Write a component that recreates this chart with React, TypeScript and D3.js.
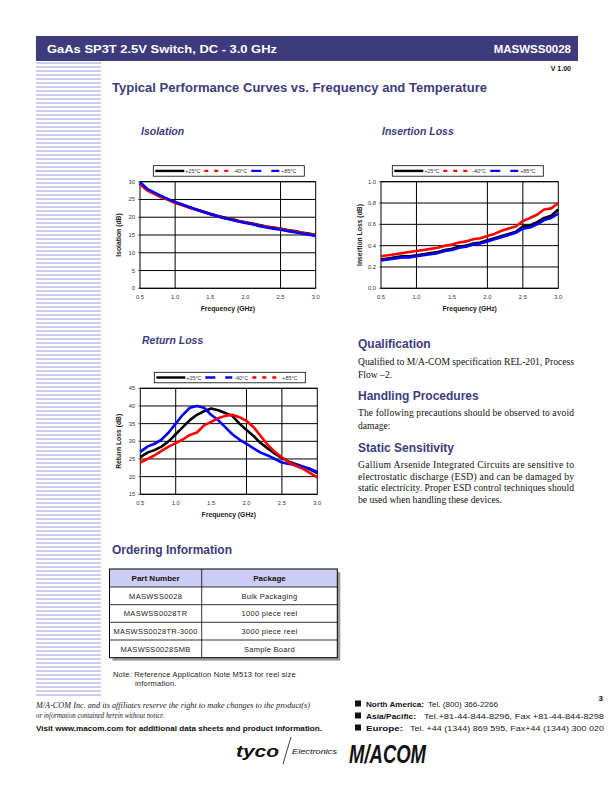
import * as d3 from "d3";

// frequency grid in GHz
const freqs = [0.5, 0.6, 0.7, 0.8, 0.9, 1.0, 1.1, 1.2, 1.3, 1.4, 1.5, 1.6, 1.7, 1.8, 1.9, 2.0, 2.1, 2.2, 2.3, 2.4, 2.5, 2.6, 2.7, 2.8, 2.9, 3.0];
const xTicks = [0.5, 1.0, 1.5, 2.0, 2.5, 3.0];

// Isolation (dB)
const isoP25 = [29.5, 27.8, 26.8, 25.8, 25.0, 24.2, 23.5, 22.8, 22.2, 21.6, 21.0, 20.4, 19.9, 19.5, 19.0, 18.6, 18.2, 17.8, 17.4, 17.1, 16.8, 16.4, 16.1, 15.7, 15.4, 15.0];
const isoM40 = [29.3, 27.6, 26.6, 25.6, 24.9, 24.0, 23.4, 22.7, 22.1, 21.5, 20.8, 20.3, 19.8, 19.4, 18.9, 18.5, 18.1, 17.7, 17.3, 17.0, 16.7, 16.3, 16.0, 15.6, 15.3, 14.9];
const isoP85 = [29.9, 28.0, 27.0, 26.0, 25.1, 24.3, 23.6, 22.9, 22.2, 21.5, 20.9, 20.3, 19.7, 19.3, 18.8, 18.4, 18.0, 17.5, 17.1, 16.8, 16.5, 16.1, 15.8, 15.4, 15.1, 14.7];

// Insertion loss (dB)
const ilP25 = [0.27, 0.28, 0.29, 0.30, 0.30, 0.31, 0.32, 0.33, 0.34, 0.36, 0.37, 0.39, 0.40, 0.42, 0.43, 0.45, 0.47, 0.49, 0.51, 0.53, 0.58, 0.59, 0.62, 0.66, 0.68, 0.74];
const ilM40 = [0.30, 0.31, 0.32, 0.33, 0.34, 0.35, 0.36, 0.37, 0.38, 0.40, 0.41, 0.43, 0.44, 0.46, 0.47, 0.49, 0.51, 0.54, 0.56, 0.58, 0.63, 0.66, 0.69, 0.74, 0.75, 0.80];
const ilP85 = [0.26, 0.27, 0.28, 0.29, 0.29, 0.30, 0.31, 0.32, 0.33, 0.35, 0.36, 0.38, 0.39, 0.41, 0.42, 0.44, 0.46, 0.48, 0.50, 0.52, 0.56, 0.57, 0.60, 0.64, 0.66, 0.70];

// Return loss (dB)
const rlP25 = [25.5, 26.8, 27.5, 28.5, 30.0, 32.0, 34.0, 36.0, 37.5, 38.5, 39.3, 38.8, 38.0, 37.2, 35.0, 33.2, 31.5, 29.5, 28.0, 26.5, 25.3, 24.2, 23.5, 22.8, 22.0, 21.0];
const rlM40 = [27.0, 28.5, 29.3, 30.5, 32.5, 35.0, 37.5, 39.5, 40.0, 39.5, 37.5, 36.0, 34.0, 32.0, 30.5, 29.3, 28.0, 26.8, 26.0, 25.0, 24.0, 23.6, 23.4, 22.8, 22.2, 21.3];
const rlP85 = [24.0, 25.0, 26.0, 27.3, 28.5, 29.5, 30.5, 31.8, 32.5, 34.5, 35.5, 36.5, 37.2, 37.5, 36.8, 35.8, 34.0, 31.5, 29.0, 27.0, 25.5, 24.0, 23.0, 22.2, 21.0, 19.8];

const partNumbers = ["MASWSS0028", "MASWSS0028TR", "MASWSS0028TR-3000", "MASWSS0028SMB"];
const packages = ["Bulk Packaging", "1000 piece reel", "3000 piece reel", "Sample Board"];

const NAVY = "#3d3b7c";
const STRIPE = "#ccccf5";
const SANS = "'Liberation Sans', Arial, sans-serif";
const SERIF = "'Liberation Serif', 'Times New Roman', serif";

type Series = { values: number[]; color: string };
type LegendItem = { label: string; color: string; dash: string };

function Chart(props: {
  left: number; top: number; width: number; height: number;
  yDomain: [number, number]; yTicks: number[]; yFmt: (v: number) => string;
  vGrid: number[]; yLabel: string; series: Series[]; legend: LegendItem[];
  legendX: number;
}) {
  const { left, top, width, height, yDomain, yTicks, yFmt, vGrid, yLabel, series, legend, legendX } = props;
  const x = d3.scaleLinear().domain([0.5, 3.0]).range([left, left + width]);
  const y = d3.scaleLinear().domain(yDomain).range([top + height, top]);
  const line = d3.line<number>().x((_, i) => x(freqs[i])).y((d) => y(d));
  const lgY = top - 16;
  const lgW = 151;
  const segs = [
    [2, 31],
    [51, 78],
    [98, 126],
  ];
  const labs = [32, 80, 128];
  return (
    <g>
      {yTicks.map((t) => (
        <g key={"h" + t}>
          <line x1={left} x2={left + width} y1={y(t)} y2={y(t)} stroke="#000" strokeWidth={1} />
          <line x1={left - 2} x2={left} y1={y(t)} y2={y(t)} stroke="#000" strokeWidth={0.6} />
          <text x={left - 5} y={y(t) + 2} fontSize={5.8} textAnchor="end" fill="#333" fontFamily={SANS}>{yFmt(t)}</text>
        </g>
      ))}
      {vGrid.map((t) => (
        <line key={"v" + t} x1={x(t)} x2={x(t)} y1={top} y2={top + height} stroke="#000" strokeWidth={1} />
      ))}
      {xTicks.map((t) => (
        <text key={"x" + t} x={x(t)} y={top + height + 11} fontSize={5.8} textAnchor="middle" fill="#333" fontFamily={SANS}>{t.toFixed(1)}</text>
      ))}
      <rect x={left} y={top} width={width} height={height} fill="none" stroke="#000" strokeWidth={1} />
      {series.map((s, i) => (
        <path key={i} d={line(s.values) || ""} fill="none" stroke={s.color} strokeWidth={2.6} strokeLinejoin="round" />
      ))}
      <text x={left + width / 2} y={top + height + 23} fontSize={6.8} fontWeight="bold" textAnchor="middle" fill="#222" fontFamily={SANS}>Frequency (GHz)</text>
      <text transform={`translate(${left - 19},${top + height / 2}) rotate(-90)`} fontSize={6.8} fontWeight="bold" textAnchor="middle" fill="#222" fontFamily={SANS}>{yLabel}</text>
      <rect x={legendX} y={lgY} width={lgW} height={10.5} fill="#fff" stroke="#000" strokeWidth={0.8} />
      {legend.map((it, i) => (
        <g key={it.label}>
          <line x1={legendX + segs[i][0]} x2={legendX + segs[i][1]} y1={lgY + 5.2} y2={lgY + 5.2} stroke={it.color} strokeWidth={2.4} strokeDasharray={it.dash} />
          <text x={legendX + labs[i]} y={lgY + 7.2} fontSize={5.4} fill="#333" fontFamily={SANS}>{it.label}</text>
        </g>
      ))}
    </g>
  );
}

function JustText(props: { x: number; y: number; lines: string[]; width: number; lh: number }) {
  const { x, y, lines, width, lh } = props;
  return (
    <g>
      {lines.map((l, i) => (
        <text key={i} x={x} y={y + i * lh} fontSize={9.6} fill="#111" fontFamily={SERIF}
          {...(i < lines.length - 1 ? { textLength: width, lengthAdjust: "spacing" } : {})}>{l}</text>
      ))}
    </g>
  );
}

export default function App() {
  const stripes = d3.range(62, 698, 4);
  const legA: LegendItem[] = [
    { label: "+25°C", color: "#000", dash: "none" },
    { label: "-40°C", color: "#ff0000", dash: "4 6" },
    { label: "+85°C", color: "#0000ff", dash: "10 10" },
  ];
  const legB: LegendItem[] = [
    { label: "+25°C", color: "#000", dash: "none" },
    { label: "-40°C", color: "#0000ff", dash: "10 10" },
    { label: "+85°C", color: "#ff0000", dash: "4 6" },
  ];
  const rowY = [569, 587, 604.7, 622.3, 640, 657.7];
  const tL = 109.5, tM = 201.7, tR = 337.3;
  const contacts: [string, string, number, number, number, number][] = [
    ["North America:", "Tel. (800) 366-2266", 706.5, 58, 428, 70],
    ["Asia/Pacific:", "Tel.+81-44-844-8296,  Fax +81-44-844-8298", 718.5, 50, 424, 180],
    ["Europe:", "Tel. +44 (1344) 869 595,  Fax+44 (1344) 300 020", 730.5, 37, 410, 194],
  ];
  return (
    <svg width={612} height={792} style={{ position: "absolute", left: 0, top: 0 }} fontFamily={SANS}>
      <rect width={612} height={792} fill="#fff" />
      {stripes.map((s) => (
        <rect key={s} x={36} y={s} width={65} height={2} fill={STRIPE} />
      ))}
      <rect x={36} y={36} width={542} height={25} fill={NAVY} />
      <text x={47} y={52.5} fontSize={11.5} fontWeight="bold" fill="#fff" textLength={230} lengthAdjust="spacingAndGlyphs">GaAs SP3T 2.5V Switch, DC - 3.0 GHz</text>
      <text x={571} y={52.5} fontSize={11.5} fontWeight="bold" fill="#fff" textAnchor="end">MASWSS0028</text>
      <text x={571} y={71} fontSize={7} fontWeight="bold" fill="#111" textAnchor="end">V 1.00</text>
      <text x={112} y={91.5} fontSize={12} fontWeight="bold" fill={NAVY} textLength={375} lengthAdjust="spacingAndGlyphs">Typical Performance Curves vs. Frequency and Temperature</text>

      <text x={141} y={135} fontSize={10.5} fontWeight="bold" fontStyle="italic" fill={NAVY}>Isolation</text>
      <text x={382} y={135} fontSize={10.5} fontWeight="bold" fontStyle="italic" fill={NAVY}>Insertion Loss</text>
      <text x={142} y={344} fontSize={10.5} fontWeight="bold" fontStyle="italic" fill={NAVY}>Return Loss</text>

      <Chart left={140} top={181.7} width={175.7} height={106.6} yDomain={[0, 30]} yTicks={[0, 5, 10, 15, 20, 25, 30]}
        yFmt={(v) => String(v)} vGrid={[1.0, 2.5]} yLabel="Isolation (dB)" legend={legA} legendX={153.3}
        series={[{ values: isoP25, color: "#000" }, { values: isoM40, color: "#ff0000" }, { values: isoP85, color: "#0000ff" }]} />
      <Chart left={381} top={181.7} width={177.3} height={106.6} yDomain={[0, 1]} yTicks={[0, 0.2, 0.4, 0.6, 0.8, 1.0]}
        yFmt={(v) => v.toFixed(1)} vGrid={[1.0, 2.0, 2.5]} yLabel="Insertion Loss (dB)" legend={legA} legendX={392.3}
        series={[{ values: ilM40, color: "#ff0000" }, { values: ilP25, color: "#000" }, { values: ilP85, color: "#0000ff" }]} />
      <Chart left={140.3} top={388.3} width={177} height={106} yDomain={[15, 45]} yTicks={[15, 20, 25, 30, 35, 40, 45]}
        yFmt={(v) => String(v)} vGrid={[1.0, 2.0, 2.5]} yLabel="Return Loss (dB)" legend={legB} legendX={154.3}
        series={[{ values: rlP25, color: "#000" }, { values: rlM40, color: "#0000ff" }, { values: rlP85, color: "#ff0000" }]} />

      <text x={358} y={347.5} fontSize={12} fontWeight="bold" fill={NAVY}>Qualification</text>
      <JustText x={358} y={365} width={216} lh={12.5} lines={["Qualified to M/A-COM specification REL-201, Process", "Flow \u20132."]} />
      <text x={358} y={399.5} fontSize={12} fontWeight="bold" fill={NAVY}>Handling Procedures</text>
      <JustText x={358} y={416} width={216} lh={12.5} lines={["The following precautions should be observed to avoid", "damage:"]} />
      <text x={358} y={451.5} fontSize={12} fontWeight="bold" fill={NAVY}>Static Sensitivity</text>
      <JustText x={358} y={468} width={216} lh={11.7} lines={["Gallium Arsenide Integrated Circuits are sensitive to", "electrostatic discharge (ESD) and can be damaged by", "static electricity.  Proper ESD control techniques should", "be used when handling these devices."]} />

      <text x={112} y={553.5} fontSize={12} fontWeight="bold" fill={NAVY}>Ordering Information</text>
      <rect x={tL + 3} y={rowY[0] + 3} width={tR - tL} height={rowY[5] - rowY[0]} fill="#9a9a9a" />
      <rect x={tL} y={rowY[0]} width={tR - tL} height={rowY[5] - rowY[0]} fill="#fff" />
      <rect x={tL} y={rowY[0]} width={tR - tL} height={rowY[1] - rowY[0]} fill={STRIPE} />
      {rowY.slice(1, 5).map((r) => (
        <line key={r} x1={tL} x2={tR} y1={r} y2={r} stroke="#000" strokeWidth={0.8} />
      ))}
      <line x1={tM} x2={tM} y1={rowY[0]} y2={rowY[5]} stroke="#000" strokeWidth={0.8} />
      <rect x={tL} y={rowY[0]} width={tR - tL} height={rowY[5] - rowY[0]} fill="none" stroke="#000" strokeWidth={1} />
      <text x={(tL + tM) / 2} y={rowY[0] + 12} fontSize={8} fontWeight="bold" textAnchor="middle" fill="#111">Part Number</text>
      <text x={(tM + tR) / 2} y={rowY[0] + 12} fontSize={8} fontWeight="bold" textAnchor="middle" fill="#111">Package</text>
      {partNumbers.map((p, i) => (
        <g key={p}>
          <text x={(tL + tM) / 2} y={rowY[i + 1] + 11.5} fontSize={7.5} letterSpacing={0.3} textAnchor="middle" fill="#222">{p}</text>
          <text x={(tM + tR) / 2} y={rowY[i + 1] + 11.5} fontSize={7.5} letterSpacing={0.3} textAnchor="middle" fill="#222">{packages[i]}</text>
        </g>
      ))}
      <text x={113} y={676.5} fontSize={7.5} letterSpacing={0.2} fill="#222">Note:  Reference Application Note M513 for reel size</text>
      <text x={135} y={685.5} fontSize={7.5} letterSpacing={0.2} fill="#222">information.</text>

      <text x={36} y={708} fontSize={8.3} fontStyle="italic" fill="#222" fontFamily={SERIF} textLength={274} lengthAdjust="spacingAndGlyphs">M/A-COM Inc. and its affiliates reserve the right to make changes to the product(s)</text>
      <text x={36} y={718} fontSize={8.3} fontStyle="italic" fill="#222" fontFamily={SERIF} textLength={129} lengthAdjust="spacingAndGlyphs">or information contained herein without notice.</text>
      <text x={36} y={730.5} fontSize={7.7} fontWeight="bold" fill="#111" textLength={286} lengthAdjust="spacingAndGlyphs">Visit www.macom.com for additional data sheets and product information.</text>

      {contacts.map(([a, b, yy, wa, bx, wb]) => (
        <g key={a}>
          <rect x={355} y={yy - 6} width={6} height={6} fill="#111" />
          <text x={366} y={yy} fontSize={7.4} fontWeight="bold" fill="#111" textLength={wa} lengthAdjust="spacingAndGlyphs">{a}</text>
          <text x={bx} y={yy} fontSize={6.8} fill="#222" textLength={wb} lengthAdjust="spacingAndGlyphs">{b}</text>
        </g>
      ))}
      <text x={603} y={701} fontSize={8} fontWeight="bold" textAnchor="end" fill="#111">3</text>

      <text x={236} y={757} fontSize={17} fontWeight="bold" fontStyle="italic" fill="#111" textLength={43} lengthAdjust="spacingAndGlyphs">tyco</text>
      <line x1={283} y1={764} x2={291} y2={737} stroke="#111" strokeWidth={0.8} />
      <text x={292} y={754} fontSize={8} fontStyle="italic" fill="#111" textLength={45} lengthAdjust="spacingAndGlyphs">Electronics</text>
      <text x={349} y={763} fontSize={26} fontWeight="bold" fontStyle="italic" fill="#111" textLength={77} lengthAdjust="spacingAndGlyphs">M/ACOM</text>
    </svg>
  );
}
